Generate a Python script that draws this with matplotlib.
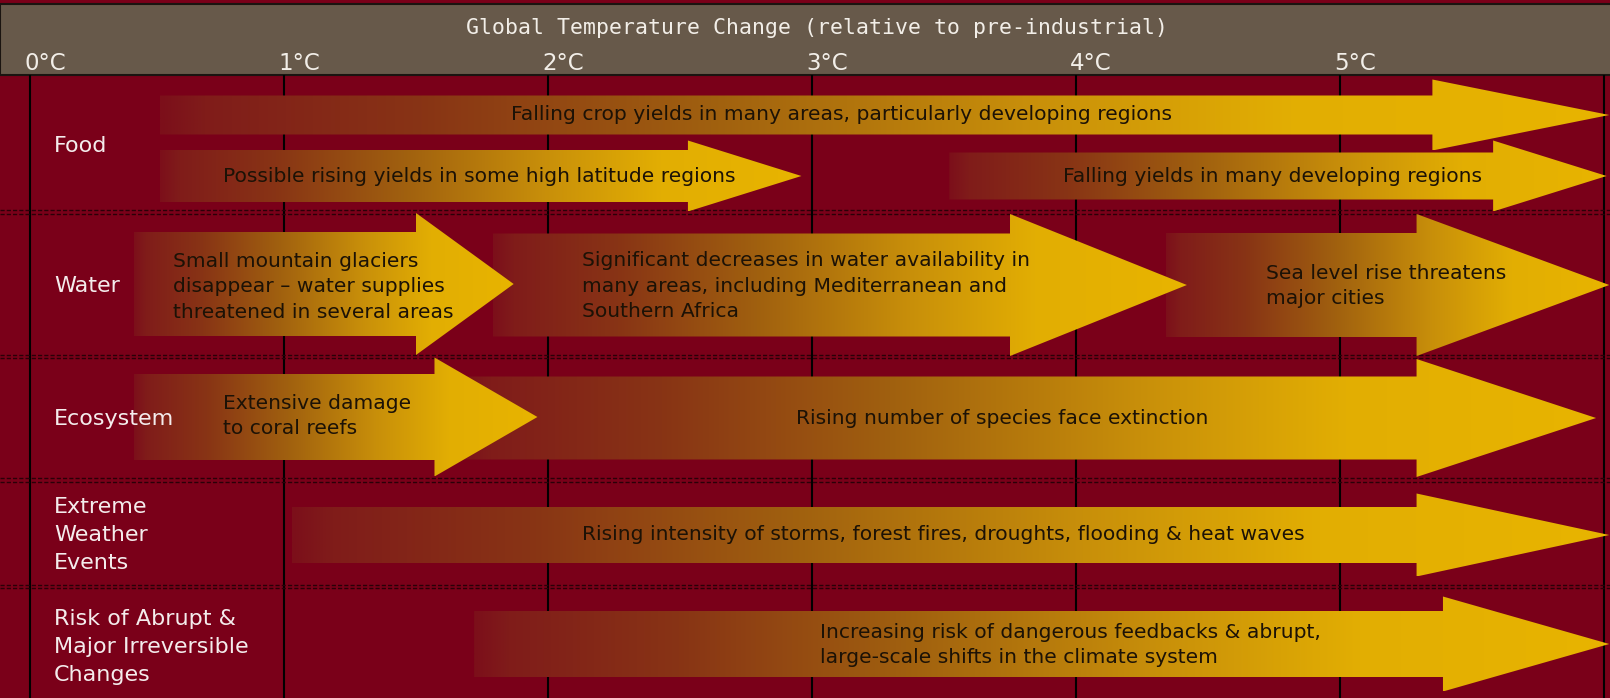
import numpy as np
import matplotlib.pyplot as plt
from matplotlib.patches import Polygon, Rectangle
from matplotlib.colors import to_rgb

# 数据：温度刻度与行标签
temps = [0, 1, 2, 3, 4, 5]
temp_labels = ['0°C', '1°C', '2°C', '3°C', '4°C', '5°C']
row_labels = ['Food', 'Water', 'Ecosystem',
              'Extreme\nWeather\nEvents',
              'Risk of Abrupt &\nMajor Irreversible\nChanges']

# 每个箭头：文字、起点温度、箭头头部起点温度、终点温度
impact_text = [
    'Falling crop yields in many areas, particularly developing regions',
    'Possible rising yields in some high latitude regions',
    'Falling yields in many developing regions',
    'Small mountain glaciers\ndisappear \u2013 water supplies\nthreatened in several areas',
    'Significant decreases in water availability in\nmany areas, including Mediterranean and\nSouthern Africa',
    'Sea level rise threatens\nmajor cities',
    'Extensive damage\nto coral reefs',
    'Rising number of species face extinction',
    'Rising intensity of storms, forest fires, droughts, flooding & heat waves',
    'Increasing risk of dangerous feedbacks & abrupt,\nlarge-scale shifts in the climate system',
]
arrow_start = [0.53, 0.53, 3.52, 0.43, 1.79, 4.34, 0.43, 1.65, 1.03, 1.72]
arrow_head = [5.35, 2.53, 5.58, 1.50, 3.75, 5.29, 1.57, 5.29, 5.29, 5.39]
arrow_end = [6.02, 2.96, 6.01, 1.87, 4.42, 6.02, 1.96, 5.97, 6.02, 6.02]

# 版式（像素行坐标）
W, H = 1610, 698
x0_px, deg_px = 20, 264
arrow_y = [115, 176, 176, 284, 285, 285, 417, 418, 535, 644]
shaft_half = [19.5, 26, 23.5, 52, 51.5, 52, 43, 41.5, 28, 33]
head_half = [35.5, 35.5, 35.5, 71, 71, 71, 59.5, 59, 41.5, 47.5]
text_x = [3.11, 0.77, 3.95, 0.58, 2.13, 4.72, 0.77, 3.72, 2.13, 3.03]
text_ha = ['center', 'left', 'left', 'left', 'left', 'left', 'left', 'center', 'left', 'left']
text_y = [114, 176, 176, 287, 286, 286, 416, 418, 535, 645]
row_y = [146, 286, 419, 535, 647]
sep_y = [(210, 214), (355, 358), (478, 482), (585, 588)]
grid_t = [0.038, 1, 2, 3, 4, 5, 6.0]

bg = '#7a0019'
header = '#67594a'
stops_f = [0.0, 0.03, 0.18, 0.38, 0.60, 0.78, 1.0]
stops_c = np.array([to_rgb(c) for c in
                    ['#7c0f1a', '#801c1a', '#883415', '#a0600f', '#c88f0a', '#e2ae03', '#e8b400']])

fig = plt.figure(figsize=(W / 100, H / 100), dpi=100, facecolor=bg)
ax = fig.add_axes([0, 0, 1, 1])
ax.set_facecolor(bg)
ax.set_xlim(-x0_px / deg_px, (W - x0_px) / deg_px)
ax.set_ylim(H, 0)
ax.axis('off')

# 标题栏
ax.add_patch(Rectangle((ax.get_xlim()[0], 3.5), 7, 71, facecolor=header,
                       edgecolor='#1a1410', lw=1.5, zorder=1))
ax.text(3.02, 28, 'Global Temperature Change (relative to pre-industrial)',
        color='#f2eee8', fontsize=15.5, family='DejaVu Sans Mono',
        ha='center', va='center', zorder=5)
for t, lab in zip(grid_t[:6], temp_labels):
    ax.text(t - 6 / deg_px, 64, lab, color='#f2eee8', fontsize=16.5,
            ha='left', va='center', zorder=5)

# 网格
ax.vlines(grid_t, 75, H, color='black', lw=1.5, zorder=2)
for a, b in sep_y:
    ax.hlines([a, b], *ax.get_xlim(), color='#2a0008', lw=1.0,
              linestyles=(0, (3, 1.5)), zorder=2)

# 行标签
for lab, y in zip(row_labels, row_y):
    ax.text((54 - x0_px) / deg_px, y, lab, color='#f4ecec', fontsize=16,
            ha='left', va='center', linespacing=1.5, zorder=30)

# 渐变箭头
n = len(impact_text)
for i in range(n):
    xs, xh, xe = arrow_start[i], arrow_head[i], arrow_end[i]
    yc, sh, hh = arrow_y[i], shaft_half[i], head_half[i]
    pts = [(xs, yc - sh), (xh, yc - sh), (xh, yc - hh), (xe, yc),
           (xh, yc + hh), (xh, yc + sh), (xs, yc + sh)]
    z = 10 + (n - i)
    poly = Polygon(pts, closed=True, transform=ax.transData)
    xx = np.linspace(0, 1, 600)
    img = np.stack([np.interp(xx, stops_f, stops_c[:, k]) for k in range(3)], axis=-1)[None, :, :]
    im = ax.imshow(img, extent=[xs, xe, yc + hh, yc - hh], aspect='auto',
                   interpolation='bilinear', zorder=z)
    im.set_clip_path(poly)
    ax.text(text_x[i], text_y[i], impact_text[i], color='#1c1206', fontsize=14.6,
            ha=text_ha[i], va='center', linespacing=1.42, zorder=z + 0.5)

fig.savefig('out.png', dpi=100, facecolor=bg)
